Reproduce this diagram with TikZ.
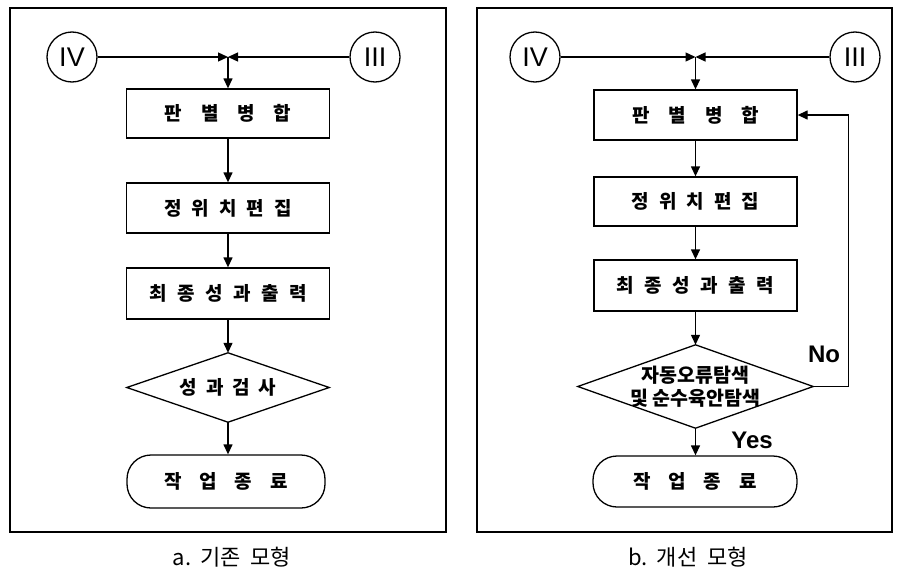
\documentclass[tikz,border=0pt]{standalone}
\usepackage{fontspec}
\setmainfont{Liberation Serif}
\newfontfamily\kr{Noto Sans CJK KR}
\newfontfamily\lat{Liberation Sans}
\usetikzlibrary{arrows.meta}
\newcommand{\gap}[1]{\hspace{#1pt}}
\tikzset{
  frame/.style={line width=1.4pt},
  conn/.style={line width=1.3pt},
  arr/.style={conn,-{Triangle[length=10pt,width=9pt]}},
  roman/.style={circle,draw,line width=1.3pt,minimum size=50pt,inner sep=0pt,font=\lat\fontsize{27}{27}\selectfont},
  procbox/.style={rectangle,draw,line width=1.3pt,minimum width=203pt,inner sep=0pt,font=\kr\bfseries\fontsize{19}{21}\selectfont},
  decision/.style={rectangle,inner sep=0pt},
  diamondline/.style={line width=1.3pt,line join=miter},
  termbox/.style={rectangle,rounded corners=24pt,draw,line width=1.3pt,inner sep=0pt,font=\kr\bfseries\fontsize{19}{21}\selectfont},
  yn/.style={font=\lat\bfseries\fontsize{24}{24}\selectfont,inner sep=0pt},
  caption/.style={font=\kr\fontsize{22}{24}\selectfont,inner sep=0pt}
}
\begin{document}
\begin{tikzpicture}[x=1pt,y=-1pt]
\useasboundingbox (0,0) rectangle (902,570);
% frames
\draw[frame] (10,8) rectangle (446,532);
\draw[frame] (477,8) rectangle (892,532);

% ---------- panel a ----------
\node[roman] (ivA) at (72,57) {IV};
\node[roman] (iiiA) at (375,57) {III};
\coordinate (jA) at (228,57);
\node[procbox,minimum height=49pt] (b1A) at (228,113.5) {판\gap{19}별\gap{19}병\gap{19}합};
\node[procbox,minimum height=50pt] (b2A) at (228,208) {정\gap{10}위\gap{10}치\gap{10}편\gap{10}집};
\node[procbox,minimum height=51pt] (b3A) at (228,293.5) {최\gap{10.5}종\gap{10.5}성\gap{10.5}과\gap{10.5}출\gap{10.5}력};
\node[decision,minimum width=202pt,minimum height=69pt,font=\kr\bfseries\fontsize{19}{21}\selectfont] (dA) at (228,387.5) {성\gap{9}과\gap{9}검\gap{9}사};
\draw[diamondline] (dA.north) -- (dA.east) -- (dA.south) -- (dA.west) -- cycle;
\node[termbox,minimum width=198pt,minimum height=53pt] (tA) at (226,481.5) {작\gap{18}업\gap{18}종\gap{18}료};
\draw[arr] (ivA) -- (jA);
\draw[arr] (iiiA) -- (jA);
\draw[arr] (jA) -- (b1A);
\draw[arr] (b1A) -- (b2A);
\draw[arr] (b2A) -- (b3A);
\draw[arr] (b3A) -- (dA.north);
\draw[arr] (dA.south) -- (dA.south |- tA.north);
\node[caption] (capA) at (232,557) {a.\gap{9}기존\gap{10}모형};

% ---------- panel b ----------
\node[roman] (ivB) at (535,57) {IV};
\node[roman] (iiiB) at (855,57) {III};
\coordinate (jB) at (695.5,57);
\node[procbox,minimum height=50pt] (b1B) at (695.5,115) {판\gap{19}별\gap{19}병\gap{19}합};
\node[procbox,minimum height=49pt] (b2B) at (695.5,201.5) {정\gap{10}위\gap{10}치\gap{10}편\gap{10}집};
\node[procbox,minimum height=51pt] (b3B) at (695.5,285.5) {최\gap{10.5}종\gap{10.5}성\gap{10.5}과\gap{10.5}출\gap{10.5}력};
\node[decision,minimum width=235pt,minimum height=83pt,align=center,font=\kr\bfseries\fontsize{19.5}{23}\selectfont] (dB) at (695.5,386.5) {자동오류탐색\\및 순수육안탐색};
\draw[diamondline] (dB.north) -- (dB.east) -- (dB.south) -- (dB.west) -- cycle;
\node[termbox,minimum width=204pt,minimum height=51pt] (tB) at (695,481.5) {작\gap{18}업\gap{18}종\gap{18}료};
\draw[arr] (ivB) -- (jB);
\draw[arr] (iiiB) -- (jB);
\draw[arr] (jB) -- (b1B);
\draw[arr] (b1B) -- (b2B);
\draw[arr] (b2B) -- (b3B);
\draw[arr] (b3B) -- (dB.north);
\draw[arr] (dB.south) -- (dB.south |- tB.north);
\draw[arr] (dB.east) -- ++(35,0) |- (b1B.east);
\node[yn] (noB) at (824,354) {No};
\node[yn] (yesB) at (752,440) {Yes};
\node[caption] (capB) at (688,557) {b.\gap{9}개선\gap{10}모형};
\end{tikzpicture}
\end{document}
